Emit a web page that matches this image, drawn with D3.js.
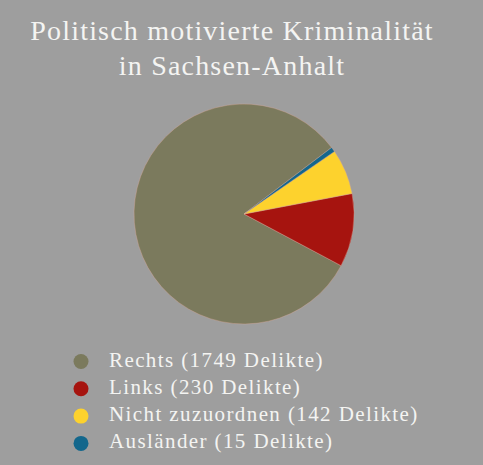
<!DOCTYPE html>
<html>
<head>
<meta charset="utf-8">
<script src="https://cdn.jsdelivr.net/npm/d3@7.9.0/dist/d3.min.js"></script>
<style>
  body { margin: 0; background: #9e9e9e; }
  svg { display: block; }
  text { font-family: "Liberation Serif", "DejaVu Serif", serif; fill: #f4f4f2; }
</style>
</head>
<body>
<svg id="chart" width="483" height="465"></svg>
<script>
const categories = ["Rechts", "Links", "Nicht zuzuordnen", "Ausländer"];
const counts = [1749, 230, 142, 15];
const colors = ["#7b7a5d", "#a6140f", "#fdd22d", "#13678c"];
const titleLines = ["Politisch motivierte Kriminalität", "in Sachsen-Anhalt"];

const svg = d3.select("#chart");
const W = 483, H = 465;

svg.append("rect").attr("width", W).attr("height", H).attr("fill", "#9e9e9e");

// title
svg.selectAll("text.title")
  .data(titleLines)
  .join("text")
  .attr("class", "title")
  .attr("x", 232)
  .attr("y", (d, i) => 40 + i * 35)
  .attr("text-anchor", "middle")
  .style("font-size", "28px")
  .style("letter-spacing", "1.2px")
  .text(d => d);

// pie, slices run counterclockwise, Rechts ends at the lower right
const data = categories.map((c, i) => ({ label: c, value: counts[i], color: colors[i] }));
const start = 52.8 * Math.PI / 180;
const pie = d3.pie().sort(null).value(d => d.value)
  .startAngle(start).endAngle(start - 2 * Math.PI);
const arc = d3.arc().innerRadius(0).outerRadius(110);

svg.append("g")
  .attr("transform", "translate(244,214)")
  .selectAll("path")
  .data(pie(data))
  .join("path")
  .attr("d", arc)
  .attr("fill", d => d.data.color)
  .attr("stroke", "#d9a99a")
  .attr("stroke-width", 0.4);

// legend
const legend = svg.append("g").attr("transform", "translate(81,361.5)");
const rows = legend.selectAll("g")
  .data(data)
  .join("g")
  .attr("transform", (d, i) => `translate(0,${i * 27.3})`);

rows.append("circle")
  .attr("r", 7.5)
  .attr("fill", d => d.color);

rows.append("text")
  .attr("x", 28)
  .attr("y", 5)
  .style("font-size", "21px")
  .style("letter-spacing", "1.4px")
  .text(d => `${d.label} (${d.value} Delikte)`);
</script>
</body>
</html>
